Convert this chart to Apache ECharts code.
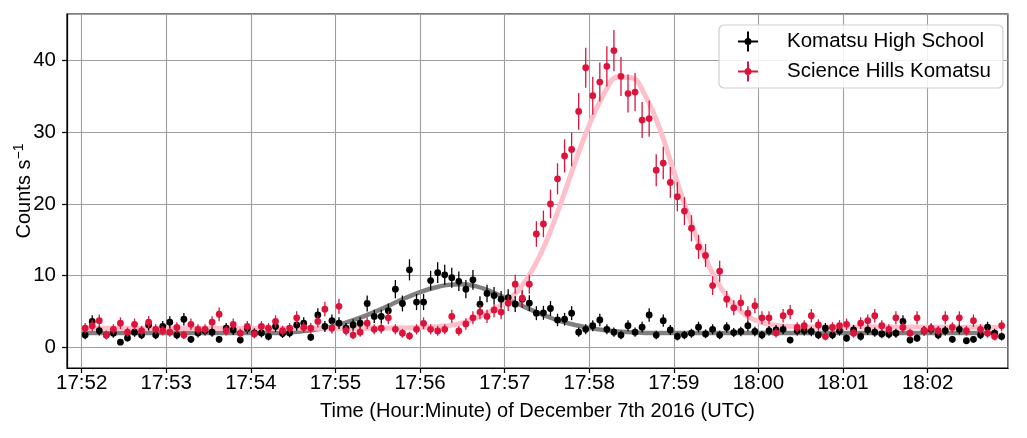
<!DOCTYPE html>
<html>
<head>
<meta charset="utf-8">
<script src="https://cdn.jsdelivr.net/npm/echarts@6/dist/echarts.min.js"></script>
<style>
  html, body { margin: 0; padding: 0; background: #fff; }
  #chart { width: 1027px; height: 438px; }
</style>
</head>
<body>
<div id="chart"></div>
<script>
// 5 s bins starting at 17:52:00 UTC on 2016-12-07, rates in counts/s
const binStart = Date.UTC(2016, 11, 7, 17, 52, 0)
const binWidth = 5

const highSchool = [
  1.7, 3.6, 2.3, 1.7, 1.95, 0.7, 1.3, 2.1, 1.7, 3.1, 1.7, 2.9, 3.5, 1.7, 3.9, 1.1, 2.0, 2.3, 2.1, 1.1, 2.65, 2.4, 1.0,
  2.6, 2.0, 2.0, 1.5, 2.9, 1.9, 2.0, 3.1, 3.35, 1.4, 4.5, 2.9, 3.7, 3.35, 2.65, 3.1, 3.35, 6.1, 4.3, 4.3, 5.1, 8.1, 6.1,
  10.8, 6.3, 6.3, 9.3, 10.4, 10.1, 9.7, 9.2, 8.1, 9.4, 6.0, 7.5, 7.2, 6.7, 6.9, 6.0, 6.7, 6.15, 4.75,
  4.8, 5.4, 3.8, 3.9, 4.75, 2.1, 2.5, 3.0, 3.8, 2.5, 2.1, 1.7, 3.0, 2.1, 2.8, 4.5, 1.7, 3.7, 2.4, 1.5, 1.7, 1.95, 2.8, 1.86, 2.5,
  1.7, 2.75, 2.05, 2.2, 3.0, 2.2, 1.7, 2.3, 2.4, 2.5, 1.0, 2.3, 2.3, 2.2, 1.7, 2.65, 1.7, 2.3, 1.26, 2.4, 1.5,
  2.4, 2.1, 1.86, 1.8, 1.95, 3.6, 1.0, 1.26, 2.3, 2.5, 1.7, 2.3, 1.1, 2.5, 0.9, 1.1, 1.7, 2.8, 1.95, 1.5
]

const scienceHills = [
  2.65, 3.0, 3.7, 1.7, 2.5, 3.35, 2.1, 3.2, 2.3, 3.5, 2.5, 2.3, 2.1, 2.75, 1.7, 3.2, 2.5, 2.5, 3.5, 4.6, 2.3, 3.2,
  1.95, 2.9, 1.86, 2.9, 2.65, 3.6, 2.3, 2.65, 4.1, 2.75, 2.65, 3.6, 5.3, 2.65, 5.7, 2.3, 1.7, 2.1, 3.35, 2.5, 2.65, 4.1, 2.5, 1.95,
  1.58, 2.5, 3.34, 2.5, 2.27, 2.5, 4.3, 2.27, 3.25, 4.1, 4.9, 4.3, 5.2, 4.9, 6.15, 8.8, 6.85, 8.8, 15.8,
  17.2, 20.0, 23.5, 26.7, 27.6, 32.9, 39.0, 35.1, 37.0, 39.2, 41.4, 37.8, 35.4, 35.6, 31.7, 31.9, 24.7, 25.7, 23.0, 21.0, 19.0, 16.6, 14.0, 12.8, 8.6, 10.6,
  6.7, 5.5, 6.2, 4.75, 5.8, 4.1, 4.1, 2.0, 4.4, 4.9, 2.75, 3.0, 4.4, 3.1, 1.5, 2.75, 3.0, 3.2, 1.95, 3.35,
  3.7, 4.4, 3.0, 2.5, 4.1, 2.75, 1.95, 4.1, 2.3, 2.65, 2.3, 4.1, 2.75, 4.1, 2.3, 3.7, 2.5, 1.95, 1.5, 3.0
]

// fitted curves: [seconds after 17:52, counts/s]
const highSchoolFit = [
  [0, 2.0], [140, 2.0], [160, 2.3], [170, 2.6], [180, 3.0], [190, 3.6], [200, 4.3], [210, 5.1], [220, 6.0],
  [230, 6.9], [240, 7.7], [250, 8.3], [260, 8.7], [270, 8.8], [280, 8.5], [290, 7.8], [300, 6.9], [310, 6.0],
  [320, 5.1], [330, 4.3], [340, 3.6], [350, 3.1], [360, 2.7], [370, 2.4], [380, 2.2], [390, 2.1], [400, 2.0], [650, 2.0]
]
const scienceHillsFit = [
  [0, 2.65], [200, 2.65], [240, 2.75], [260, 3.0], [270, 3.4], [280, 4.1], [290, 5.0], [300, 6.2], [310, 8.0],
  [320, 10.9], [330, 15.0], [340, 20.2], [350, 25.8], [360, 31.0], [370, 35.2], [380, 37.7], [390, 37.6],
  [400, 35.0], [410, 30.5], [420, 24.5], [430, 18.6], [440, 13.5], [450, 9.4], [460, 6.5], [470, 4.6],
  [480, 3.6], [490, 3.1], [510, 2.85], [650, 2.8]
]

// axis range in seconds after 17:52
const xRange = [-10.4, 657]
const yRange = [-2.9, 46.5]

function toPoints(rates) {
  return rates.map((r, i) => {
    const t = binStart + 1000 * binWidth * (i + 0.5)
    return [t, r, Math.sqrt(r * binWidth) / binWidth]
  })
}

function toTime(curve) {
  return curve.map(([s, v]) => [binStart + s * 1000, v])
}

function pad(n) {
  return String(n).padStart(2, '0')
}

function errorItem(dotColor, barColor) {
  return function (params, api) {
    const t = api.value(0)
    const v = api.value(1)
    const e = api.value(2)
    const p = api.coord([t, v])
    const lo = api.coord([t, v - e])
    const hi = api.coord([t, v + e])
    return {
      type: 'group',
      children: [
        { type: 'line', shape: { x1: p[0], y1: lo[1], x2: p[0], y2: hi[1] }, style: { stroke: barColor, lineWidth: 1.3 } },
        { type: 'circle', shape: { cx: p[0], cy: p[1], r: 3.4 }, style: { fill: dotColor } }
      ]
    }
  }
}

const legendIcon = 'path://M0,9 h20 v2 h-20 z M9,0 h2 v20 h-2 z M6.5,10 a3.5,3.5 0 1,1 7,0 a3.5,3.5 0 1,1 -7,0 z'
const font = 'Liberation Sans, Arial, Helvetica, sans-serif'

const chart = echarts.init(document.getElementById('chart'))

chart.setOption({
  backgroundColor: '#fff',
  animation: false,
  useUTC: true,
  textStyle: { fontFamily: font },
  grid: {
    left: 67,
    right: 19,
    top: 14,
    bottom: 70,
    containLabel: false,
    outerBoundsMode: 'none',
    show: true,
    borderColor: '#000',
    borderWidth: 1.2,
    backgroundColor: 'transparent'
  },
  legend: {
    orient: 'vertical',
    left: 719,
    top: 25,
    padding: [6, 12, 6, 19],
    itemGap: 9,
    itemWidth: 20,
    itemHeight: 20,
    borderColor: '#d0d0d0',
    borderWidth: 1.2,
    borderRadius: 5,
    backgroundColor: 'rgba(255,255,255,0.85)',
    textStyle: { fontFamily: font, fontSize: 20.5, color: '#000', padding: [0, 0, 0, 24] },
    data: [
      { name: 'Komatsu High School', icon: legendIcon, itemStyle: { color: '#000' } },
      { name: 'Science Hills Komatsu', icon: legendIcon, itemStyle: { color: '#dc143c' } }
    ]
  },
  xAxis: {
    type: 'time',
    min: binStart + xRange[0] * 1000,
    max: binStart + xRange[1] * 1000,
    minInterval: 60000,
    maxInterval: 60000,
    name: 'Time (Hour:Minute) of December 7th 2016 (UTC)',
    nameLocation: 'middle',
    nameGap: 33,
    nameMoveOverlap: false,
    nameTextStyle: { fontFamily: font, fontSize: 20, color: '#000' },
    axisLine: { show: true, onZero: false, lineStyle: { color: '#000', width: 1.2 } },
    axisTick: { show: true, length: 5, lineStyle: { color: '#000', width: 1.2 } },
    axisLabel: {
      fontFamily: font,
      fontSize: 20.5,
      color: '#000',
      margin: 5,
      showMinLabel: false,
      showMaxLabel: false,
      hideOverlap: false,
      formatter: v => {
        const d = new Date(v)
        if (d.getUTCSeconds() !== 0) return ''
        return pad(d.getUTCHours()) + ':' + pad(d.getUTCMinutes())
      }
    },
    splitLine: { show: true, lineStyle: { color: '#9e9e9e', width: 1.1 } }
  },
  yAxis: {
    type: 'value',
    min: yRange[0],
    max: yRange[1],
    splitNumber: 5,
    name: 'Counts s{sup|−1}',
    nameLocation: 'middle',
    nameGap: 31,
    nameMoveOverlap: false,
    nameRotate: 90,
    nameTextStyle: {
      fontFamily: font,
      fontSize: 20,
      color: '#000',
      rich: { sup: { fontFamily: font, fontSize: 14, color: '#000', verticalAlign: 'top', padding: [0, 0, 10, 0] } }
    },
    axisLine: { show: true, onZero: false, lineStyle: { color: '#000', width: 1.2 } },
    axisTick: { show: true, length: 5, lineStyle: { color: '#000', width: 1.2 } },
    axisLabel: {
      fontFamily: font,
      fontSize: 20.5,
      color: '#000',
      margin: 11,
      showMinLabel: false,
      showMaxLabel: false
    },
    splitLine: { show: true, lineStyle: { color: '#9e9e9e', width: 1.1 } }
  },
  series: [
    {
      name: 'Komatsu High School fit',
      type: 'line',
      data: toTime(highSchoolFit),
      smooth: 0.4,
      showSymbol: false,
      lineStyle: { color: '#808080', width: 4.5 },
      z: 2
    },
    {
      name: 'Science Hills Komatsu fit',
      type: 'line',
      data: toTime(scienceHillsFit),
      smooth: 0.4,
      showSymbol: false,
      lineStyle: { color: '#ffc0cb', width: 5 },
      z: 2
    },
    {
      name: 'Komatsu High School',
      type: 'custom',
      data: toPoints(highSchool),
      encode: { x: 0, y: 1 },
      renderItem: errorItem('#000', '#000'),
      itemStyle: { color: '#000' },
      z: 3
    },
    {
      name: 'Science Hills Komatsu',
      type: 'custom',
      data: toPoints(scienceHills),
      encode: { x: 0, y: 1 },
      renderItem: errorItem('#dc143c', '#dc143c'),
      itemStyle: { color: '#dc143c' },
      z: 4
    }
  ]
})
</script>
</body>
</html>
